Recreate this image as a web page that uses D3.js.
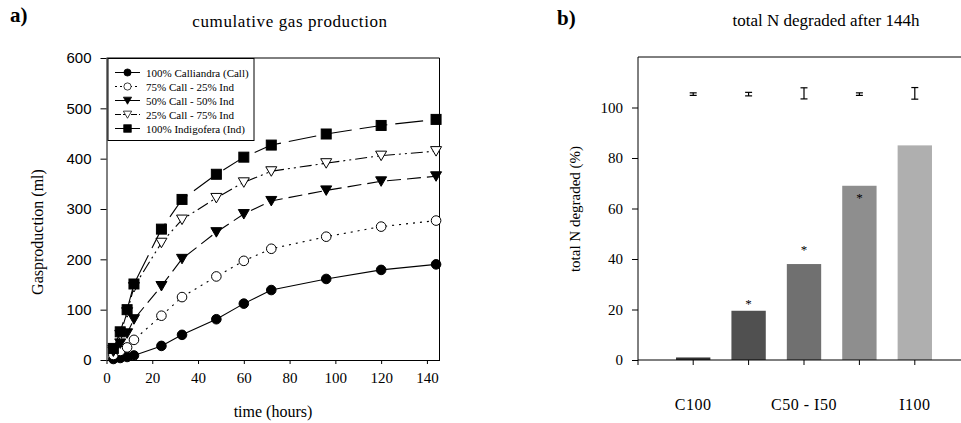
<!DOCTYPE html>
<html>
<head>
<meta charset="utf-8">
<script src="https://cdn.jsdelivr.net/npm/d3@7"></script>
<style>
  body { margin: 0; background: #fff; }
  svg { display: block; }
</style>
</head>
<body>
<svg id="chart" width="961" height="423"></svg>
<script>
// ---- data: panel a) cumulative gas production (ml)
var hours = [3, 6, 9, 12, 24, 33, 48, 60, 72, 96, 120, 144];
var seriesNames = ["100% Calliandra (Call)", "75% Call - 25% Ind", "50% Call - 50% Ind",
                   "25% Call - 75% Ind", "100% Indigofera (Ind)"];
var gasCall100 = [2, 4, 6, 9, 28, 50, 81, 112, 139, 161, 179, 190];
var gasCall75  = [10, 18, 25, 40, 88, 125, 166, 197, 221, 245, 265, 277];
var gasCall50  = [17, 33, 53, 81, 147, 201, 254, 290, 316, 337, 355, 365];
var gasCall25  = [20, 50, 95, 145, 233, 279, 322, 353, 375, 391, 406, 415];
var gasInd100  = [23, 56, 100, 151, 260, 319, 369, 403, 427, 449, 466, 478];
var gasTicksY = [0, 100, 200, 300, 400, 500, 600];
var gasTicksX = [0, 20, 40, 60, 80, 100, 120, 140];

// ---- data: panel b) total N degraded after 144h (%)
var groups = ["C100", "C75 - I25", "C50 - I50", "C25 - I75", "I100"];
var groupLabels = ["C100", "", "C50 - I50", "", "I100"];
var nDegraded = [1, 19.5, 38, 69, 85];
var errCenter = [105.3, 105.3, 105.6, 105.3, 105.6];
var errHalf = [0.5, 0.7, 2.2, 0.5, 2.3];
var starAt = [null, 23, 44.5, 65, null];
var nTicksY = [0, 20, 40, 60, 80, 100];

var SERIF = "'Liberation Serif', 'Times New Roman', serif";
var SANS = "'Liberation Sans', Arial, sans-serif";

var svg = d3.select("#chart");

// ================= panel a =================
var xA = d3.scaleLinear().domain([0, 145.5]).range([106.5, 439.5]);
var yA = d3.scaleLinear().domain([0, 600]).range([360, 58]);

var gA = svg.append("g");

// frame (top + right)
gA.append("path")
  .attr("d", "M" + xA(0) + "," + yA(600) + "H" + xA(145.5) + "V" + yA(0))
  .attr("fill", "none").attr("stroke", "#000");

var axYA = gA.append("g")
  .attr("transform", "translate(" + xA(0) + ",0)")
  .call(d3.axisLeft(yA).tickValues(gasTicksY).tickSize(6).tickSizeOuter(0).tickPadding(9));
axYA.attr("font-family", null).attr("font-size", null);
axYA.selectAll("text").style("font-family", SANS).style("font-size", "15px").attr("fill", "#000");

var axXA = gA.append("g")
  .attr("transform", "translate(0," + yA(0) + ")")
  .call(d3.axisBottom(xA).tickValues(gasTicksX).tickSize(4).tickSizeOuter(0).tickPadding(8));
axXA.attr("font-family", null).attr("font-size", null);
axXA.selectAll("text").style("font-family", SERIF).style("font-size", "15px").attr("fill", "#000");
gA.selectAll(".domain").attr("stroke", "#000");
gA.selectAll(".tick line").attr("stroke", "#000");

var series = [
  {name: seriesNames[0], vals: gasCall100, dash: null,             shape: "circle",   fill: "#000"},
  {name: seriesNames[1], vals: gasCall75,  dash: "2,5",            shape: "circle",   fill: "#fff"},
  {name: seriesNames[2], vals: gasCall50,  dash: "14,6",           shape: "triangle", fill: "#000"},
  {name: seriesNames[3], vals: gasCall25,  dash: "12,4,2,4,2,4",   shape: "triangle", fill: "#fff"},
  {name: seriesNames[4], vals: gasInd100,  dash: "28,8",           shape: "square",   fill: "#000"}
];

function drawMarker(sel, shape, fill) {
  if (shape === "circle") {
    sel.append("circle").attr("r", 4.8);
  } else if (shape === "square") {
    sel.append("rect").attr("x", -5).attr("y", -5).attr("width", 10).attr("height", 10);
  } else {
    sel.append("path").attr("d", "M-5.5,-4.5L5.5,-4.5L0,5Z");
  }
  sel.selectAll("*").attr("fill", fill).attr("stroke", "#000").attr("stroke-width", 1);
}

var line = d3.line()
  .x(function(d) { return xA(d.t); })
  .y(function(d) { return yA(d.v); });

series.forEach(function(s) {
  var pts = hours.map(function(t, i) { return {t: t, v: s.vals[i]}; });
  gA.append("path")
    .datum(pts)
    .attr("d", line)
    .attr("fill", "none")
    .attr("stroke", "#000")
    .attr("stroke-width", 1.1)
    .attr("stroke-dasharray", s.dash);
  gA.selectAll(null)
    .data(pts)
    .enter()
    .append("g")
    .attr("transform", function(d) { return "translate(" + xA(d.t) + "," + yA(d.v) + ")"; })
    .each(function() { drawMarker(d3.select(this), s.shape, s.fill); });
});

// legend
var leg = gA.append("g");
leg.append("rect")
  .attr("x", 108).attr("y", 58.5).attr("width", 146).attr("height", 82)
  .attr("fill", "#fff").attr("stroke", "#000");
series.forEach(function(s, i) {
  var yy = 72.5 + i * 14;
  leg.append("line")
    .attr("x1", 115).attr("x2", 140).attr("y1", yy).attr("y2", yy)
    .attr("stroke", "#000").attr("stroke-dasharray", i === 1 ? "2,3" : (i === 3 ? "6,2,2,2,2,2" : null));
  var m = leg.append("g").attr("transform", "translate(127.5," + yy + ") scale(0.75)");
  drawMarker(m, s.shape, s.fill);
  leg.append("text")
    .attr("x", 146).attr("y", yy + 4)
    .style("font-family", SERIF)
    .style("font-size", "11px")
    .text(s.name);
});

// titles
svg.append("text")
  .attr("x", 10).attr("y", 22)
  .style("font-family", SERIF)
  .style("font-size", "21px").style("font-weight", "bold")
  .text("a)");
svg.append("text")
  .attr("x", 290).attr("y", 27).attr("text-anchor", "middle")
  .style("font-family", SERIF)
  .style("font-size", "17px").style("letter-spacing", "0.6px")
  .text("cumulative gas production");
svg.append("text")
  .attr("x", 273).attr("y", 417).attr("text-anchor", "middle")
  .style("font-family", SERIF)
  .style("font-size", "16px")
  .text("time (hours)");
svg.append("text")
  .attr("transform", "translate(43,232) rotate(-90)")
  .attr("text-anchor", "middle")
  .style("font-family", SERIF)
  .style("font-size", "16px")
  .text("Gasproduction (ml)");

// ================= panel b =================
var xB = d3.scaleBand().domain(groups).range([665.5, 942.5]).paddingInner(0.38).paddingOuter(0.19);
var yB = d3.scaleLinear().domain([0, 120]).range([360, 57]);
var gB = svg.append("g");

// top frame line
gB.append("line")
  .attr("x1", 638).attr("x2", 961).attr("y1", yB(120)).attr("y2", yB(120))
  .attr("stroke", "#000");

var barColors = ["#333333", "#505050", "#707070", "#8e8e8e", "#afafaf"];
gB.selectAll("rect.bar")
  .data(nDegraded)
  .enter()
  .append("rect")
  .attr("class", "bar")
  .attr("x", function(d, i) { return xB(groups[i]); })
  .attr("width", xB.bandwidth())
  .attr("y", function(d) { return yB(d); })
  .attr("height", function(d) { return yB(0) - yB(d); })
  .attr("fill", function(d, i) { return barColors[i]; });

var axYB = gB.append("g")
  .attr("transform", "translate(638,0)")
  .call(d3.axisLeft(yB).tickValues(nTicksY).tickSize(6).tickSizeOuter(0).tickPadding(9));
axYB.attr("font-family", null).attr("font-size", null);
axYB.select(".domain").attr("d", "M0," + yB(0) + "V" + yB(120));
axYB.selectAll("text").style("font-family", SERIF).style("font-size", "15px").attr("fill", "#000");

var axXB = gB.append("g")
  .attr("transform", "translate(0," + yB(0) + ")")
  .call(d3.axisBottom(xB).tickSize(5).tickSizeOuter(0).tickPadding(34)
    .tickFormat(function(d, i) { return groupLabels[i]; }));
axXB.attr("font-family", null).attr("font-size", null);
axXB.select(".domain").attr("d", "M638,0H961");
axXB.selectAll("text").style("font-family", SERIF).style("font-size", "16px")
  .style("letter-spacing", "0.5px").attr("fill", "#000");
gB.selectAll(".tick line").attr("stroke", "#000");
gB.selectAll(".domain").attr("stroke", "#000");
// small tick at axis origin
gB.append("line").attr("x1", 638).attr("x2", 638).attr("y1", yB(0)).attr("y2", yB(0) + 5).attr("stroke", "#000");

// error bars
var eb = gB.selectAll("g.err")
  .data(errCenter)
  .enter()
  .append("g")
  .attr("class", "err")
  .attr("transform", function(d, i) { return "translate(" + (xB(groups[i]) + xB.bandwidth() / 2) + ",0)"; });
eb.append("line")
  .attr("y1", function(d, i) { return yB(d - errHalf[i]); })
  .attr("y2", function(d, i) { return yB(d + errHalf[i]); })
  .attr("stroke", "#000").attr("stroke-width", 1.2);
eb.append("line")
  .attr("x1", -3.5).attr("x2", 3.5)
  .attr("y1", function(d, i) { return yB(d - errHalf[i]); })
  .attr("y2", function(d, i) { return yB(d - errHalf[i]); })
  .attr("stroke", "#000").attr("stroke-width", 1.2);
eb.append("line")
  .attr("x1", -3.5).attr("x2", 3.5)
  .attr("y1", function(d, i) { return yB(d + errHalf[i]); })
  .attr("y2", function(d, i) { return yB(d + errHalf[i]); })
  .attr("stroke", "#000").attr("stroke-width", 1.2);

// significance stars
gB.selectAll("text.star")
  .data(starAt.map(function(v, i) { return {v: v, g: groups[i]}; }).filter(function(d) { return d.v !== null; }))
  .enter()
  .append("text")
  .attr("class", "star")
  .attr("x", function(d) { return xB(d.g) + xB.bandwidth() / 2; })
  .attr("y", function(d) { return yB(d.v) + 6; })
  .attr("text-anchor", "middle")
  .attr("fill", "#000")
  .style("font-family", SERIF)
  .style("font-size", "13px")
  .text("*");

svg.append("text")
  .attr("x", 557).attr("y", 25)
  .style("font-family", SERIF)
  .style("font-size", "21px").style("font-weight", "bold")
  .text("b)");
svg.append("text")
  .attr("x", 826).attr("y", 26).attr("text-anchor", "middle")
  .style("font-family", SERIF)
  .style("font-size", "17px")
  .text("total N degraded after 144h");
svg.append("text")
  .attr("transform", "translate(580,209) rotate(-90)")
  .attr("text-anchor", "middle")
  .style("font-family", SERIF)
  .style("font-size", "15px")
  .text("total N degraded (%)");
</script>
</body>
</html>
